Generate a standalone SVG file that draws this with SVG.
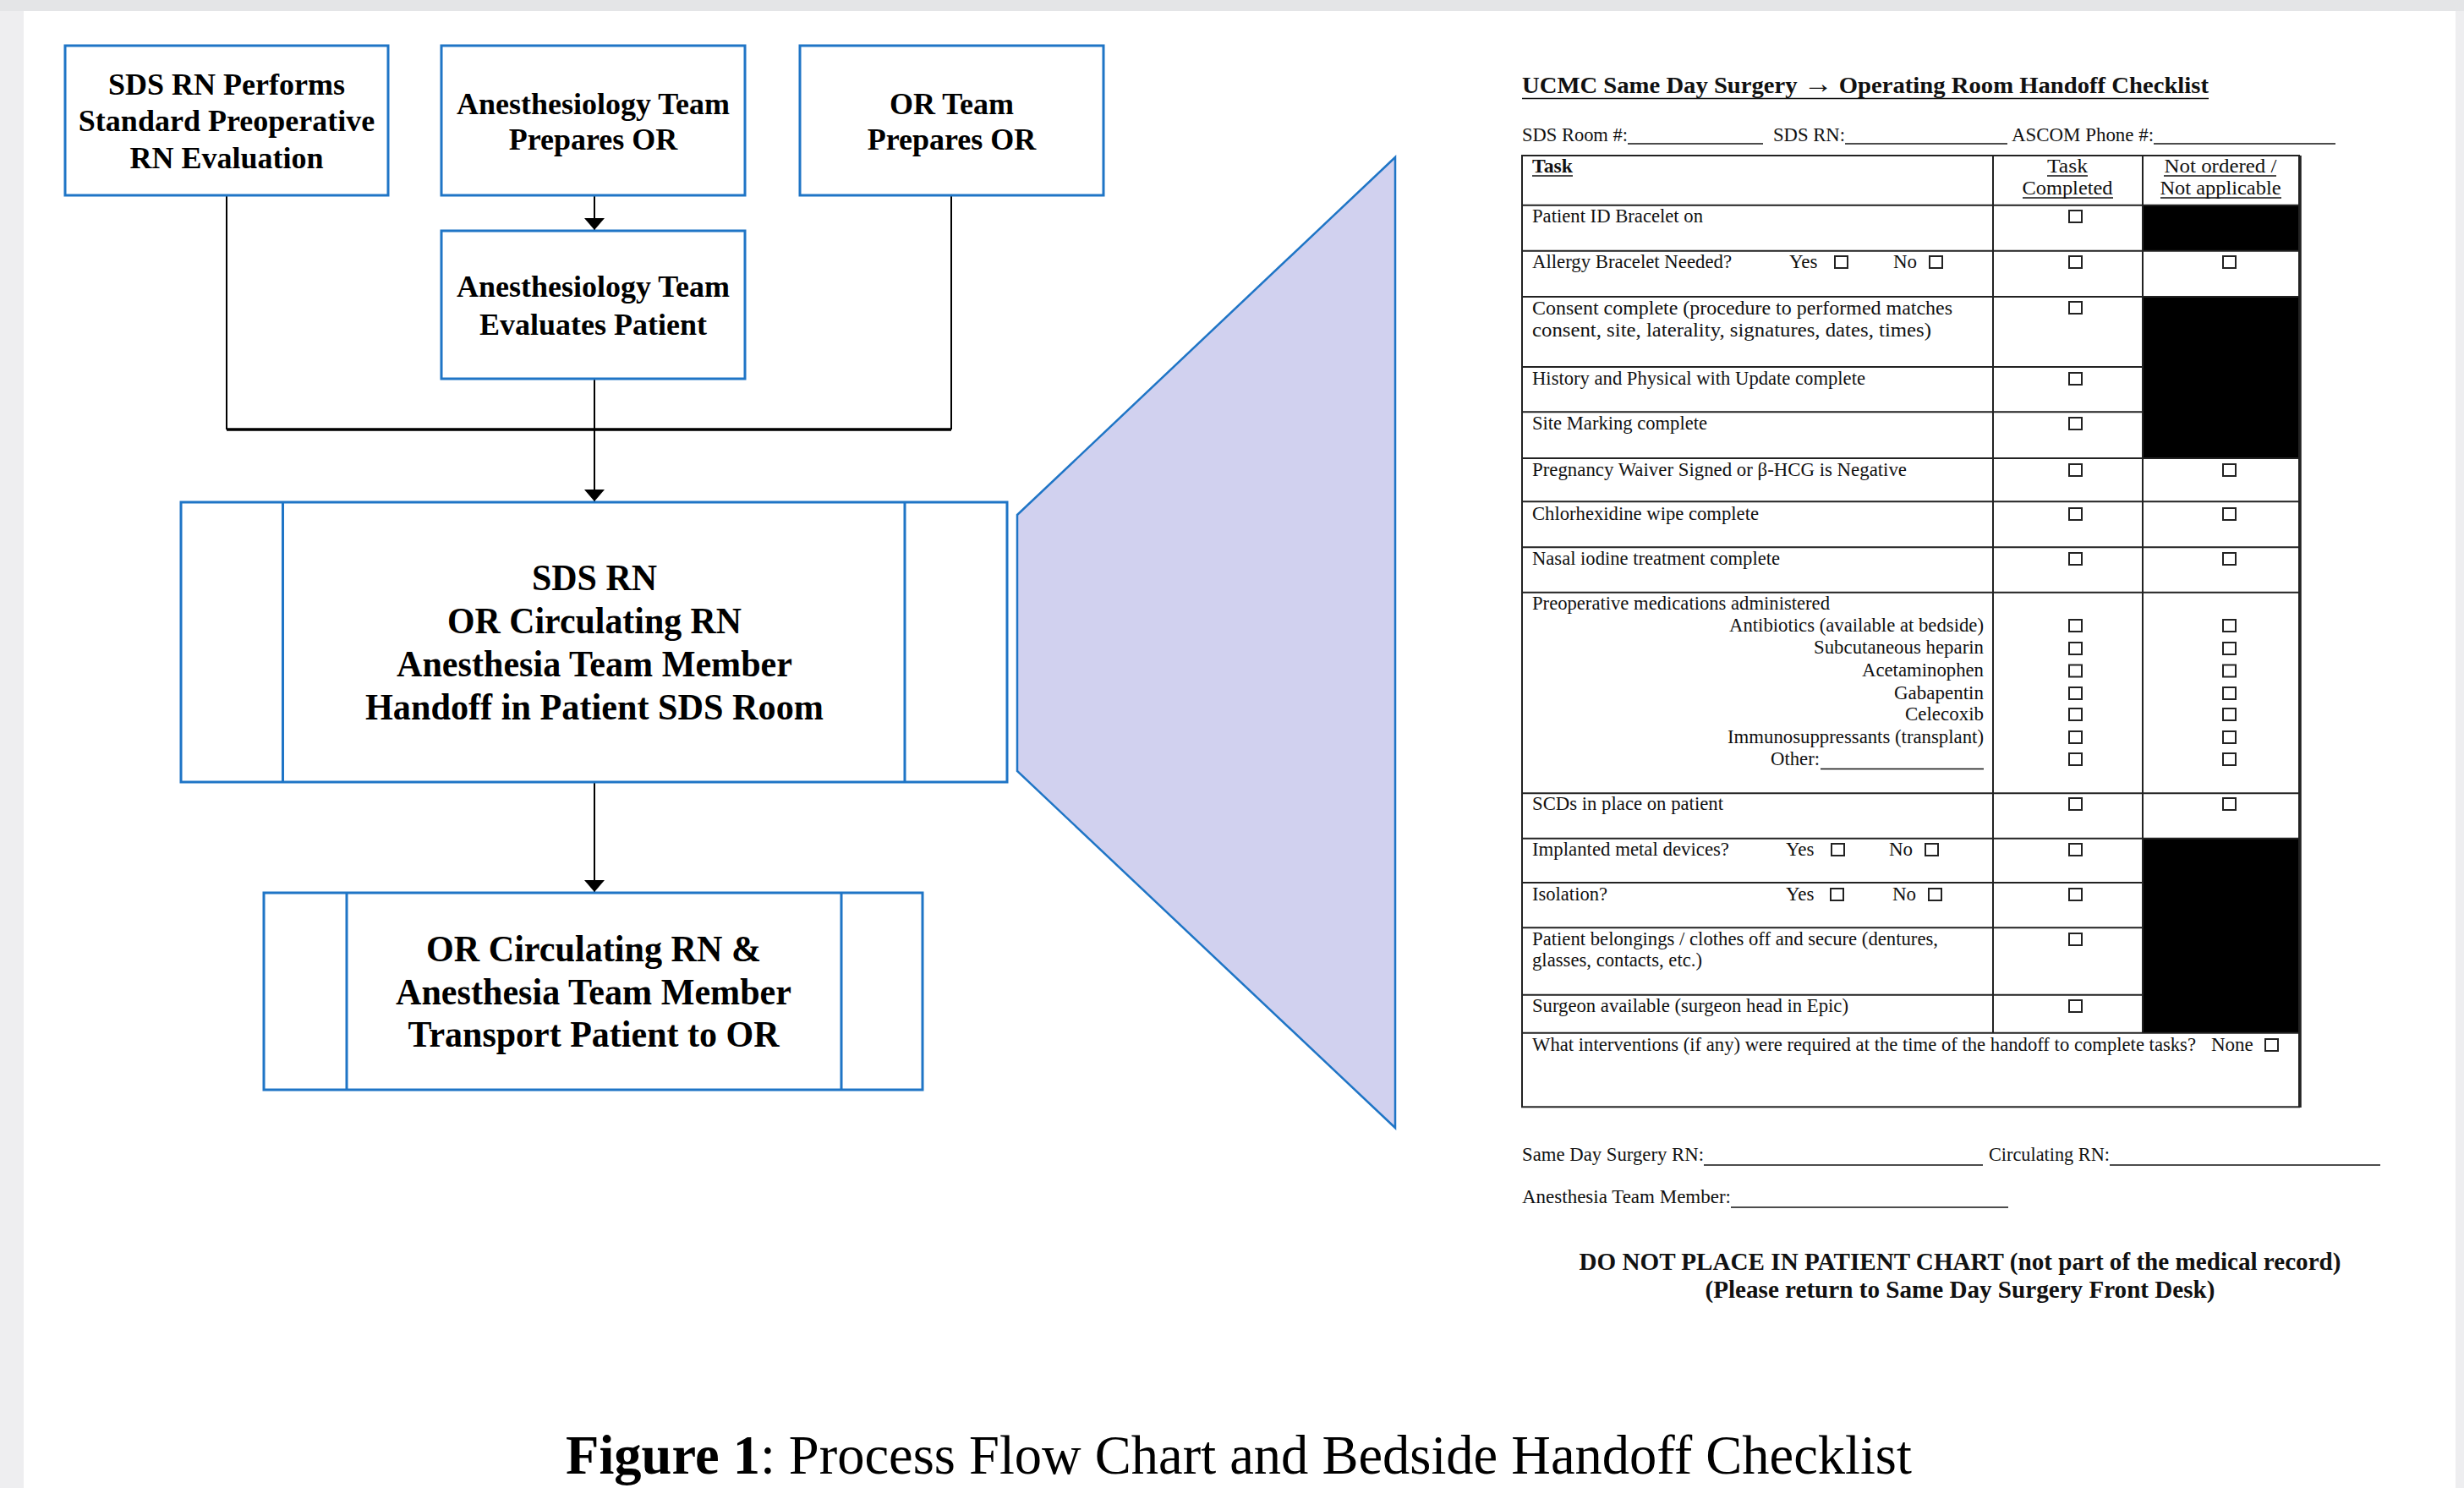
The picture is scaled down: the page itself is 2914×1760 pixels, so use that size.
<svg xmlns="http://www.w3.org/2000/svg" xmlns:xlink="http://www.w3.org/1999/xlink" width="2914" height="1760" viewBox="0 0 2914 1760">
<style>
.box{fill:#fff;stroke:#1f75c6;stroke-width:3}
.ft{font-family:"Liberation Serif","Times New Roman",serif;font-weight:bold;text-anchor:middle;fill:#000}
.f36{font-size:36px}
.f44{font-size:44px}
.con{stroke:#000;stroke-width:2;fill:none}
.t{font-family:"Liberation Serif","Times New Roman",serif;font-size:23px;fill:#111}
.b{font-weight:bold}
.big{font-size:28.5px}
.ttl{font-size:28px}
.m{text-anchor:middle}
.e{text-anchor:end}
.rl{stroke:#222;stroke-width:2;fill:none}
.ul{stroke:#111;stroke-width:1.5}
</style>
<defs>
<marker id="ah" viewBox="0 0 14 24" refX="14" refY="12" markerWidth="14" markerHeight="24" markerUnits="userSpaceOnUse" orient="auto"><path d="M0,0 L14,12 L0,24 Z" fill="#000"/></marker>
<rect id="cb" width="15" height="14" fill="#fff" stroke="#222" stroke-width="2"/>
</defs>
<rect x="0" y="0" width="2914" height="1760" fill="#eeeef0"/>
<rect x="0" y="0" width="2914" height="13" fill="#e4e5e7"/>
<rect x="28" y="13" width="2876" height="1747" fill="#fff"/>

<g id="connectors">
<path class="con" d="M268,231 V508 M1125,231 V508"/>
<path d="M268,508 H1125" stroke="#000" stroke-width="3.5"/>
<path class="con" d="M703,231 V272" marker-end="url(#ah)"/>
<path class="con" d="M703,448 V593" marker-end="url(#ah)"/>
<path class="con" d="M703,925 V1055" marker-end="url(#ah)"/>
</g>

<g id="n1">
<rect class="box" x="77" y="54" width="382" height="177"/>
<text class="ft f36" x="268" y="112">SDS RN Performs</text>
<text class="ft f36" x="268" y="155">Standard Preoperative</text>
<text class="ft f36" x="268" y="199">RN Evaluation</text>
</g>
<g id="n2">
<rect class="box" x="522" y="54" width="359" height="177"/>
<text class="ft f36" x="701.5" y="135">Anesthesiology Team</text>
<text class="ft f36" x="701.5" y="177">Prepares OR</text>
</g>
<g id="n3">
<rect class="box" x="946" y="54" width="359" height="177"/>
<text class="ft f36" x="1125.5" y="135">OR Team</text>
<text class="ft f36" x="1125.5" y="177">Prepares OR</text>
</g>
<g id="n4">
<rect class="box" x="522" y="273" width="359" height="175"/>
<text class="ft f36" x="701.5" y="351">Anesthesiology Team</text>
<text class="ft f36" x="701.5" y="396">Evaluates Patient</text>
</g>
<g id="n5">
<rect class="box" x="214" y="594" width="977" height="331"/>
<path class="box" d="M334.5,594 V925 M1070,594 V925"/>
<text class="ft f44" x="703" y="698" textLength="148" lengthAdjust="spacingAndGlyphs">SDS RN</text>
<text class="ft f44" x="703" y="749" textLength="348" lengthAdjust="spacingAndGlyphs">OR Circulating RN</text>
<text class="ft f44" x="703" y="800" textLength="468" lengthAdjust="spacingAndGlyphs">Anesthesia Team Member</text>
<text class="ft f44" x="703" y="851" textLength="542" lengthAdjust="spacingAndGlyphs">Handoff in Patient SDS Room</text>
</g>
<g id="n6">
<rect class="box" x="312" y="1056" width="779" height="233"/>
<path class="box" d="M410,1056 V1289 M995,1056 V1289"/>
<text class="ft f44" x="702" y="1137" textLength="396" lengthAdjust="spacingAndGlyphs">OR Circulating RN &amp;</text>
<text class="ft f44" x="702" y="1188" textLength="468" lengthAdjust="spacingAndGlyphs">Anesthesia Team Member</text>
<text class="ft f44" x="702" y="1238" textLength="439" lengthAdjust="spacingAndGlyphs">Transport Patient to OR</text>
</g>

<g id="zoom-wedge">
<polygon points="1203,609 1650,186 1650,1334 1203,912" fill="#d1d1ef" stroke="#1f75c6" stroke-width="2.5"/>
</g>

<g id="checklist">
<text class="t b ttl" x="1800" y="110" textLength="812" lengthAdjust="spacingAndGlyphs">UCMC Same Day Surgery <tspan font-size="34">→</tspan> Operating Room Handoff Checklist</text>
<line class="ul" x1="1800" y1="116.5" x2="2612" y2="116.5" stroke-width="2.5"/>

<text class="t" x="1800" y="166.7" textLength="125" lengthAdjust="spacingAndGlyphs">SDS Room #:</text>
<line class="ul" x1="1925" y1="170" x2="2085" y2="170"/>
<text class="t" x="2097" y="166.7" textLength="85" lengthAdjust="spacingAndGlyphs">SDS RN:</text>
<line class="ul" x1="2182" y1="170" x2="2374" y2="170"/>
<text class="t" x="2379" y="166.7" textLength="168" lengthAdjust="spacingAndGlyphs">ASCOM Phone #:</text>
<line class="ul" x1="2547" y1="170" x2="2762" y2="170"/>

<!-- black cells -->
<rect x="2534" y="242.7" width="185" height="54" fill="#000"/>
<rect x="2534" y="351" width="185" height="191" fill="#000"/>
<rect x="2534" y="991.7" width="185" height="230" fill="#000"/>

<!-- table lines -->
<rect class="rl" x="1800" y="184" width="919" height="1125.3"/>
<line x1="2720" y1="184" x2="2720" y2="1310" stroke="#222" stroke-width="3.5"/>
<path class="rl" d="M2357,184 V1221.7 M2534,184 V1221.7"/>
<path class="rl" d="M1800,242.7 H2719 M1800,296.7 H2719 M1800,351 H2719 M1800,434 H2534 M1800,487.3 H2534 M1800,542 H2719 M1800,593.3 H2719 M1800,647.3 H2719 M1800,700.7 H2719 M1800,938.3 H2719 M1800,991.7 H2719 M1800,1044 H2534 M1800,1097.3 H2534 M1800,1176.7 H2534 M1800,1221.7 H2719"/>

<!-- header -->
<text class="t b" x="1812" y="204" textLength="48" lengthAdjust="spacingAndGlyphs">Task</text>
<line class="ul" x1="1812" y1="208" x2="1860" y2="208"/>
<text class="t m" x="2445" y="204" textLength="48" lengthAdjust="spacingAndGlyphs">Task</text>
<line class="ul" x1="2421" y1="208" x2="2469" y2="208"/>
<text class="t m" x="2445" y="230" textLength="107" lengthAdjust="spacingAndGlyphs">Completed</text>
<line class="ul" x1="2392" y1="234" x2="2499" y2="234"/>
<text class="t m" x="2626" y="204" textLength="133" lengthAdjust="spacingAndGlyphs">Not ordered /</text>
<line class="ul" x1="2559" y1="208" x2="2692" y2="208"/>
<text class="t m" x="2626" y="230" textLength="143" lengthAdjust="spacingAndGlyphs">Not applicable</text>
<line class="ul" x1="2555" y1="234" x2="2698" y2="234"/>

<!-- rows -->
<text class="t" x="1812" y="262.7" textLength="202" lengthAdjust="spacingAndGlyphs">Patient ID Bracelet on</text>
<use href="#cb" x="2447" y="249"/>

<text class="t" x="1812" y="316.7" textLength="236" lengthAdjust="spacingAndGlyphs">Allergy Bracelet Needed?</text>
<text class="t" x="2116" y="316.7">Yes</text>
<use href="#cb" x="2170" y="303"/>
<text class="t" x="2239" y="316.7">No</text>
<use href="#cb" x="2282" y="303"/>
<use href="#cb" x="2447" y="303"/>
<use href="#cb" x="2629" y="303"/>

<text class="t" x="1812" y="371.7" textLength="497" lengthAdjust="spacingAndGlyphs">Consent complete (procedure to performed matches</text>
<text class="t" x="1812" y="398.3" textLength="472" lengthAdjust="spacingAndGlyphs">consent, site, laterality, signatures, dates, times)</text>
<use href="#cb" x="2447" y="357"/>

<text class="t" x="1812" y="455" textLength="394" lengthAdjust="spacingAndGlyphs">History and Physical with Update complete</text>
<use href="#cb" x="2447" y="441"/>

<text class="t" x="1812" y="508.3" textLength="207" lengthAdjust="spacingAndGlyphs">Site Marking complete</text>
<use href="#cb" x="2447" y="494"/>

<text class="t" x="1812" y="563.3" textLength="443" lengthAdjust="spacingAndGlyphs">Pregnancy Waiver Signed or β-HCG is Negative</text>
<use href="#cb" x="2447" y="549"/>
<use href="#cb" x="2629" y="549"/>

<text class="t" x="1812" y="615" textLength="268" lengthAdjust="spacingAndGlyphs">Chlorhexidine wipe complete</text>
<use href="#cb" x="2447" y="601"/>
<use href="#cb" x="2629" y="601"/>

<text class="t" x="1812" y="668.3" textLength="293" lengthAdjust="spacingAndGlyphs">Nasal iodine treatment complete</text>
<use href="#cb" x="2447" y="654"/>
<use href="#cb" x="2629" y="654"/>

<text class="t" x="1812" y="720.7" textLength="352" lengthAdjust="spacingAndGlyphs">Preoperative medications administered</text>
<text class="t e" x="2346" y="746.7" textLength="301" lengthAdjust="spacingAndGlyphs">Antibiotics (available at bedside)</text>
<text class="t e" x="2346" y="773.3" textLength="201" lengthAdjust="spacingAndGlyphs">Subcutaneous heparin</text>
<text class="t e" x="2346" y="800" textLength="144" lengthAdjust="spacingAndGlyphs">Acetaminophen</text>
<text class="t e" x="2346" y="826.7" textLength="106" lengthAdjust="spacingAndGlyphs">Gabapentin</text>
<text class="t e" x="2346" y="851.7" textLength="93" lengthAdjust="spacingAndGlyphs">Celecoxib</text>
<text class="t e" x="2346" y="879.3" textLength="303" lengthAdjust="spacingAndGlyphs">Immunosuppressants (transplant)</text>
<text class="t e" x="2152" y="905" textLength="58" lengthAdjust="spacingAndGlyphs">Other:</text>
<line class="ul" x1="2153" y1="909.5" x2="2346" y2="909.5"/>
<use href="#cb" x="2447" y="733"/><use href="#cb" x="2629" y="733"/>
<use href="#cb" x="2447" y="760"/><use href="#cb" x="2629" y="760"/>
<use href="#cb" x="2447" y="786.5"/><use href="#cb" x="2629" y="786.5"/>
<use href="#cb" x="2447" y="813"/><use href="#cb" x="2629" y="813"/>
<use href="#cb" x="2447" y="838"/><use href="#cb" x="2629" y="838"/>
<use href="#cb" x="2447" y="865"/><use href="#cb" x="2629" y="865"/>
<use href="#cb" x="2447" y="891"/><use href="#cb" x="2629" y="891"/>

<text class="t" x="1812" y="958.3" textLength="226" lengthAdjust="spacingAndGlyphs">SCDs in place on patient</text>
<use href="#cb" x="2447" y="944"/>
<use href="#cb" x="2629" y="944"/>

<text class="t" x="1812" y="1011.7" textLength="233" lengthAdjust="spacingAndGlyphs">Implanted metal devices?</text>
<text class="t" x="2112" y="1011.7">Yes</text>
<use href="#cb" x="2166" y="998"/>
<text class="t" x="2234" y="1011.7">No</text>
<use href="#cb" x="2277" y="998"/>
<use href="#cb" x="2447" y="998"/>

<text class="t" x="1812" y="1065" textLength="89" lengthAdjust="spacingAndGlyphs">Isolation?</text>
<text class="t" x="2112" y="1065">Yes</text>
<use href="#cb" x="2165" y="1051"/>
<text class="t" x="2238" y="1065">No</text>
<use href="#cb" x="2281" y="1051"/>
<use href="#cb" x="2447" y="1051"/>

<text class="t" x="1812" y="1118.3" textLength="480" lengthAdjust="spacingAndGlyphs">Patient belongings / clothes off and secure (dentures,</text>
<text class="t" x="1812" y="1143.3" textLength="201" lengthAdjust="spacingAndGlyphs">glasses, contacts, etc.)</text>
<use href="#cb" x="2447" y="1104"/>

<text class="t" x="1812" y="1197.3" textLength="374" lengthAdjust="spacingAndGlyphs">Surgeon available (surgeon head in Epic)</text>
<use href="#cb" x="2447" y="1183"/>

<text class="t" x="1812" y="1243.3" textLength="785" lengthAdjust="spacingAndGlyphs">What interventions (if any) were required at the time of the handoff to complete tasks?</text>
<text class="t" x="2615" y="1243.3">None</text>
<use href="#cb" x="2679" y="1229"/>

<!-- signatures -->
<text class="t" x="1800" y="1373.3" textLength="215" lengthAdjust="spacingAndGlyphs">Same Day Surgery RN:</text>
<line class="ul" x1="2015" y1="1378" x2="2345" y2="1378"/>
<text class="t" x="2352" y="1373.3" textLength="143" lengthAdjust="spacingAndGlyphs">Circulating RN:</text>
<line class="ul" x1="2495" y1="1378" x2="2815" y2="1378"/>
<text class="t" x="1800" y="1423.3" textLength="247" lengthAdjust="spacingAndGlyphs">Anesthesia Team Member:</text>
<line class="ul" x1="2047" y1="1428" x2="2375" y2="1428"/>

<text class="t b m big" x="2318" y="1502" textLength="901" lengthAdjust="spacingAndGlyphs">DO NOT PLACE IN PATIENT CHART (not part of the medical record)</text>
<text class="t b m big" x="2318" y="1535" textLength="603" lengthAdjust="spacingAndGlyphs">(Please return to Same Day Surgery Front Desk)</text>
</g>

<text x="669" y="1743" font-family="'Liberation Serif','Times New Roman',serif" font-size="64.5" fill="#000"><tspan font-weight="bold">Figure 1</tspan>:<tspan dx="16">Process Flow Chart and Bedside Handoff Checklist</tspan></text>
</svg>
